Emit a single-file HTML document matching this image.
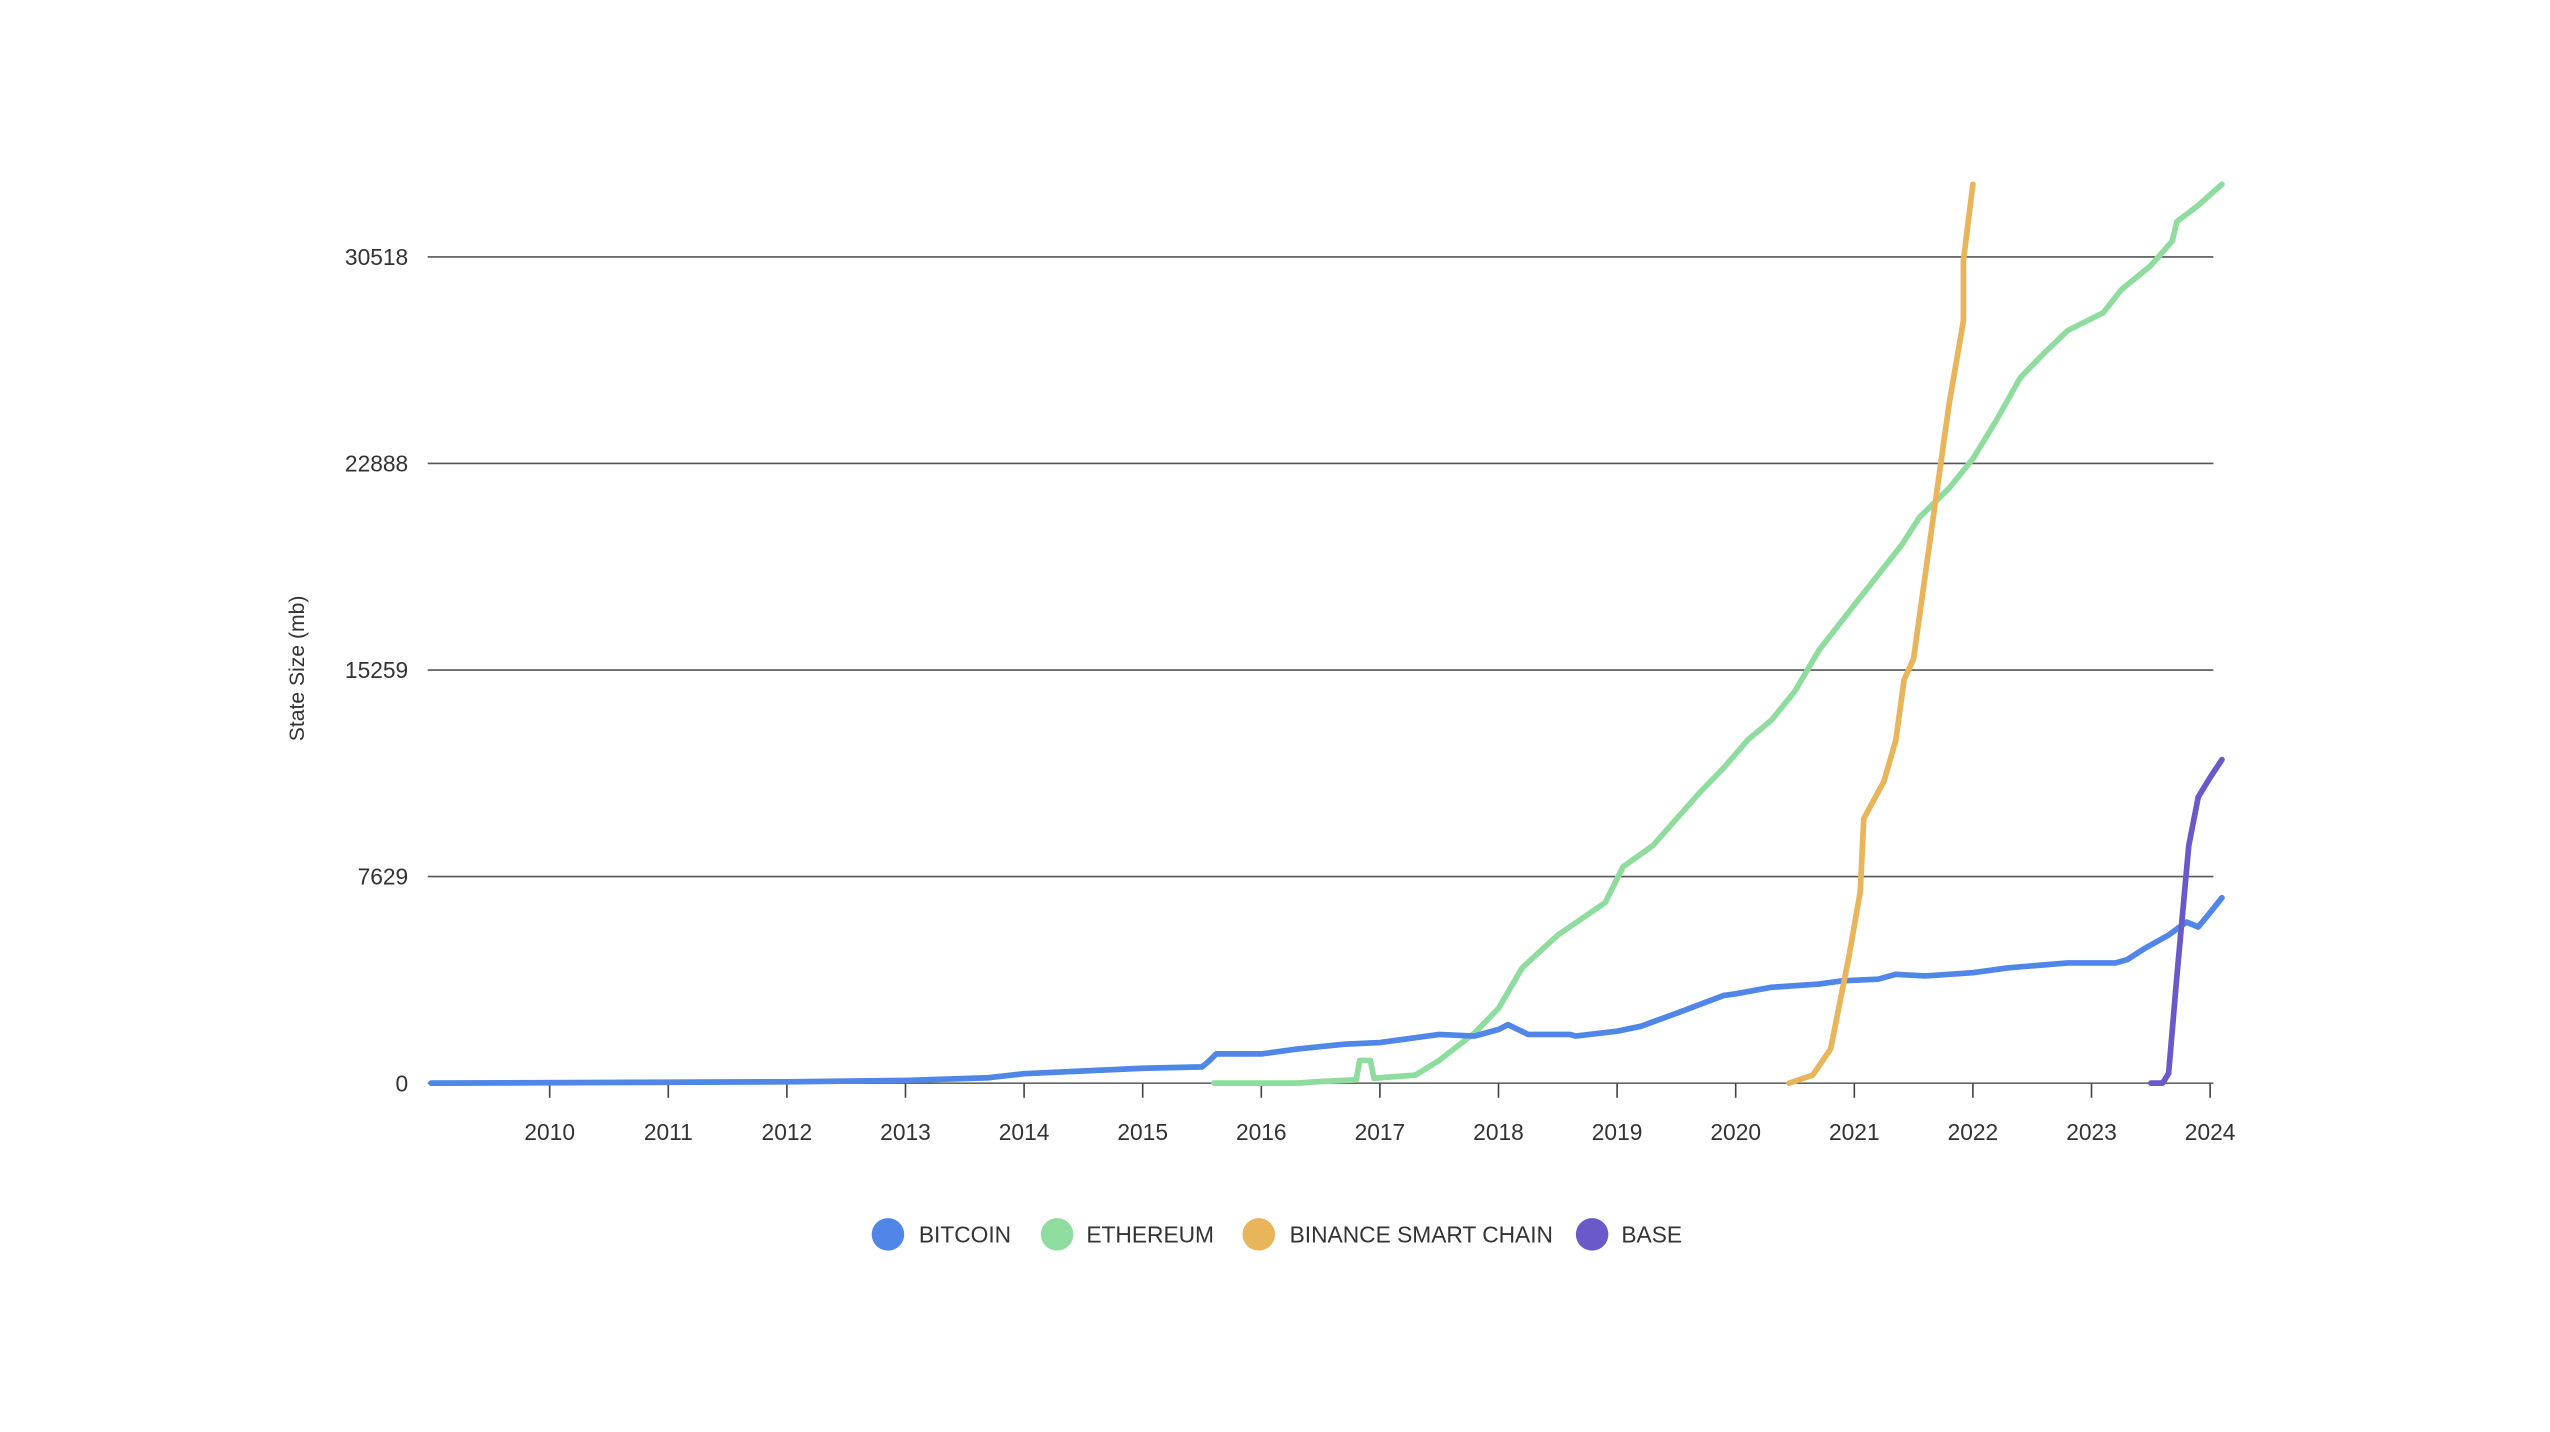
<!DOCTYPE html>
<html><head><meta charset="utf-8"><style>
html,body{margin:0;padding:0;background:#fff;}
svg{display:block;font-family:"Liberation Sans",sans-serif;}
</style></head><body>
<svg id="chart" width="2550" height="1432" viewBox="0 0 1568 880.5" preserveAspectRatio="none" xmlns="http://www.w3.org/2000/svg">
<g id="grid"></g>
<g id="axes"></g>
<g id="series"></g>
<text transform="translate(187,411) rotate(-90)" text-anchor="middle" font-size="13" fill="#333">State Size (mb)</text>
<g font-size="14" fill="#333">
<g><circle cx="546" cy="759" r="10" fill="#4f86e8"/><text x="565" y="764">BITCOIN</text></g>
<g><circle cx="650" cy="759" r="10" fill="#8fdc9f"/><text x="668" y="764">ETHEREUM</text></g>
<g><circle cx="774" cy="759" r="10" fill="#e9b55a"/><text x="793" y="764">BINANCE SMART CHAIN</text></g>
<g><circle cx="979" cy="759" r="10" fill="#6a59c8"/><text x="997" y="764">BASE</text></g>
</g>
</svg>
<script>
const yTicks=[0,7629,15259,22888,30518];
const xTicks=[2010,2011,2012,2013,2014,2015,2016,2017,2018,2019,2020,2021,2022,2023,2024];
const btcX=[2009.0,2012,2013,2013.7,2014,2015,2015.5,2015.55,2015.62,2016,2016.3,2016.7,2017,2017.3,2017.5,2017.8,2018,2018.08,2018.25,2018.6,2018.65,2019,2019.2,2019.5,2019.9,2020,2020.3,2020.7,2020.9,2021.2,2021.35,2021.6,2022,2022.3,2022.8,2023.2,2023.3,2023.45,2023.65,2023.8,2023.9,2024.0,2024.1];
const btcY=[0,50,100,200,350,550,600,780,1080,1080,1260,1440,1500,1680,1800,1740,1980,2160,1800,1800,1740,1920,2100,2580,3240,3300,3540,3660,3780,3840,4020,3960,4080,4260,4440,4440,4560,4980,5470,5950,5770,6300,6850];
const ethX=[2015.6,2016.3,2016.5,2016.8,2016.83,2016.92,2016.95,2017.3,2017.5,2017.8,2018,2018.2,2018.5,2018.9,2019.05,2019.3,2019.7,2019.9,2020.1,2020.3,2020.5,2020.7,2021,2021.4,2021.55,2021.8,2022,2022.2,2022.4,2022.6,2022.8,2023.1,2023.25,2023.5,2023.68,2023.72,2023.9,2024.1];
const ethY=[0,0,60,120,840,840,180,300,840,1860,2760,4260,5470,6670,7990,8770,10750,11650,12670,13400,14480,15980,17660,19880,20900,21980,23060,24500,26060,26960,27800,28460,29300,30200,31100,31820,32420,33200];
const bscX=[2020.45,2020.65,2020.8,2020.95,2021.05,2021.08,2021.25,2021.35,2021.42,2021.5,2021.7,2021.8,2021.92,2021.92,2022.0];
const bscY=[0,300,1260,4560,7070,9770,11150,12670,14900,15680,21980,25100,28160,30380,33200];
const baseX=[2023.5,2023.6,2023.65,2023.72,2023.82,2023.9,2024.0,2024.1];
const baseY=[0,0,360,3960,8770,10570,11290,11950];

const NS="http://www.w3.org/2000/svg";
const pxPerYear=(1359-338)/14;
const xs=v=>338+(v-2010)*pxPerYear;
const ys=v=>666-v*(127/7629);
function mk(tag,attrs,parent){const e=document.createElementNS(NS,tag);for(const k in attrs)e.setAttribute(k,attrs[k]);parent.appendChild(e);return e;}
const grid=document.getElementById('grid'),axes=document.getElementById('axes'),series=document.getElementById('series');
yTicks.forEach(t=>{
  const l=mk('line',{x1:263,x2:1361,y1:ys(t),y2:ys(t),stroke:t===0?'#666':'#555','stroke-width':1},grid);
  
  
  const tx=mk('text',{x:251,y:ys(t)+5,'text-anchor':'end','font-size':14,fill:'#333'},axes);
  tx.textContent=t;
  
  
});
xTicks.forEach(t=>{
  const l=mk('line',{x1:xs(t),x2:xs(t),y1:666,y2:675,stroke:'#444','stroke-width':1},axes);
  
  
  const tx=mk('text',{x:xs(t),y:701,'text-anchor':'middle','font-size':14,fill:'#333'},axes);
  tx.textContent=t;
  
  
});
function line(X,Y,color,name){
  const pts=X.map((v,i)=>xs(v).toFixed(2)+','+ys(Y[i]).toFixed(2)).join(' ');
  const p=mk('polyline',{points:pts,fill:'none',stroke:color,'stroke-width':3.5,'stroke-linejoin':'round','stroke-linecap':'round'},series);
  
  
}
line(ethX,ethY,'#8fdc9f','ethereum-line');
line(btcX,btcY,'#4f86e8','bitcoin-line');
line(bscX,bscY,'#e9b55a','binance-smart-chain-line');
line(baseX,baseY,'#6a59c8','base-line');
</script>
</body></html>
